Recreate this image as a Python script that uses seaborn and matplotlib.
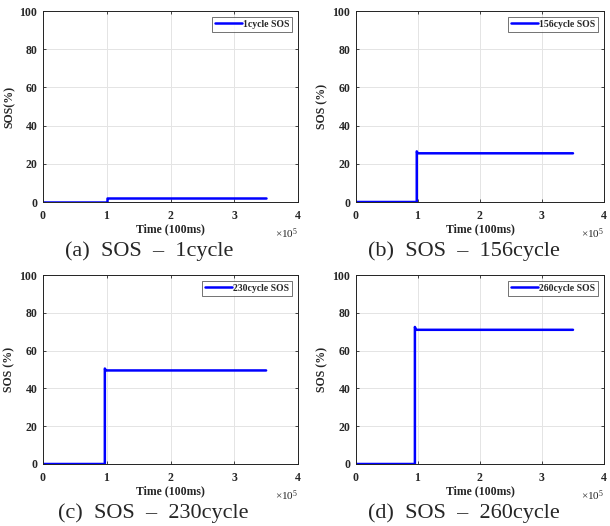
import numpy as np
import pandas as pd
import matplotlib
matplotlib.use("Agg")
import matplotlib.pyplot as plt
import seaborn as sns
from matplotlib.ticker import ScalarFormatter

# Data
cycles = ["1cycle", "156cycle", "230cycle", "260cycle"]
step_time = [1.0e5, 0.98e5, 0.97e5, 0.95e5]      # time of the step (100 ms units)
end_time = [3.5e5, 3.5e5, 3.5e5, 3.5e5]
sos_before = [0.0, 0.0, 0.0, 0.0]
sos_peak = [2.2, 26.5, 50.5, 72.5]
sos_after = [2.2, 25.5, 49.5, 71.0]
ylabels = ["SOS(%)", "SOS (%)", "SOS (%)", "SOS (%)"]
captions = ["(a)  SOS  –  1cycle", "(b)  SOS  –  156cycle",
            "(c)  SOS  –  230cycle", "(d)  SOS  –  260cycle"]
xticks = [0, 1e5, 2e5, 3e5, 4e5]
yticks = [0, 20, 40, 60, 80, 100]

sns.set_theme(style="white")
plt.rcParams["font.family"] = ["Liberation Serif", "DejaVu Serif"]
plt.rcParams["mathtext.fontset"] = "custom"
plt.rcParams["mathtext.rm"] = "Liberation Serif"

fig = plt.figure(figsize=(6.10, 5.26), dpi=100)
W, H = 610, 526
boxes = [(43, 11, 298, 202), (356, 11, 604, 202),
         (43, 275, 298, 464), (356, 275, 604, 464)]
cap_pos = [(149, 251), (464, 251), (153, 513), (464, 513)]

for i in range(4):
    l, t, r, b = boxes[i]
    ax = fig.add_axes([l / W, 1 - b / H, (r - l) / W, (b - t) / H])
    ts = step_time[i]
    df = pd.DataFrame({
        "t": [0, ts, ts, ts + 1500, end_time[i]],
        "sos": [sos_before[i], sos_before[i], sos_peak[i], sos_after[i], sos_after[i]],
    })
    sns.lineplot(data=df, x="t", y="sos", sort=False, estimator=None, ax=ax,
                 color="#0000ff", linewidth=1.8, label=f"{cycles[i]} SOS")
    ax.set_xlim(0, 4e5)
    ax.set_ylim(0, 100)
    ax.set_xticks(xticks)
    ax.set_yticks(yticks)
    fmt = ScalarFormatter(useMathText=True)
    fmt.set_powerlimits((0, 0))
    ax.xaxis.set_major_formatter(fmt)
    off = ax.xaxis.get_offset_text()
    off.set_fontsize(8)
    off.set_x(1.0)
    ax.grid(True, color="#e4e4e4", linewidth=0.7)
    for s in ax.spines.values():
        s.set_color("#222222")
        s.set_linewidth(0.7)
    ax.tick_params(direction="in", length=2.5, width=0.6, labelsize=8.5,
                   bottom=True, left=True, top=True, right=True,
                   labeltop=False, labelright=False)
    ax.tick_params(axis="x", pad=6)
    ax.tick_params(axis="y", pad=4)
    for lab in ax.get_xticklabels() + ax.get_yticklabels():
        lab.set_fontweight("bold")
    ax.set_xlabel("Time (100ms)", fontsize=8.5, fontweight="bold", labelpad=0.5)
    ax.set_ylabel(ylabels[i], fontsize=8.5, fontweight="bold", labelpad=3)
    leg = ax.legend(loc="upper right", frameon=True, fancybox=False,
                    handlelength=2.8, handletextpad=0.1, borderpad=0.3,
                    borderaxespad=0.6, prop={"weight": "bold", "size": 7})
    leg.get_frame().set_edgecolor("#333333")
    leg.get_frame().set_linewidth(0.6)
    cx, cy = cap_pos[i]
    fig.text(cx / W, 1 - cy / H, captions[i], ha="center", va="center",
             fontsize=16, family=["Liberation Serif", "DejaVu Serif"])

fig.savefig("out.png", dpi=100)
